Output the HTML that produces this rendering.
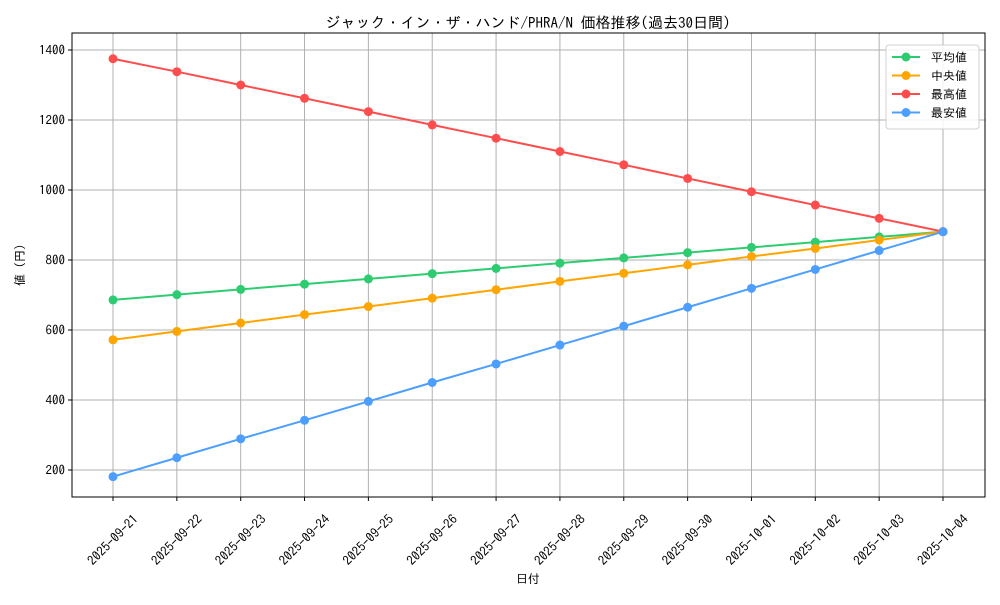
<!DOCTYPE html>
<html><head><meta charset="utf-8"><style>
body{margin:0;background:#fff}
text{font-family:"IPAGothic","Noto Sans CJK JP",monospace;fill:#000}
</style></head><body>
<svg id="chart" width="1000" height="600">
<rect width="1000" height="600" fill="#fff"/>
<text x="528" y="28" text-anchor="middle" font-size="15">ジャック・イン・ザ・ハンド/PHRA/N 価格推移(過去30日間)</text>
<g id="grid"></g><g id="series"></g><g id="axes"></g>
<text x="528" y="583" text-anchor="middle" font-size="12">日付</text>
<text transform="translate(24,265) rotate(-90)" text-anchor="middle" font-size="12">値 (円)</text>
</svg>
<script>
const categories=["2025-09-21","2025-09-22","2025-09-23","2025-09-24","2025-09-25","2025-09-26","2025-09-27","2025-09-28","2025-09-29","2025-09-30","2025-10-01","2025-10-02","2025-10-03","2025-10-04"];
const avgValues=[686,701,716,731,746,761,776,791,806,821,836,851,866,881];
const medianValues=[572,596,620,644,667,691,715,739,762,786,810,833,857,881];
const maxValues=[1375,1338,1300,1262,1224,1186,1148,1110,1072,1033,995,957,919,881];
const minValues=[181,235,289,342,396,450,503,557,611,665,719,773,827,881];
const yTicks=[200,400,600,800,1000,1200,1400];
const seriesNames=["平均値","中央値","最高値","最安値"];
const NS="http://www.w3.org/2000/svg";
const L=72,R=985,T=33,B=497;
function xs(i){return 113+i*(943-113)/(categories.length-1);}
function ys(v){return 470-(v-200)*0.35;}
function mk(t,a,p){const e=document.createElementNS(NS,t);for(const k in a)e.setAttribute(k,a[k]);p.appendChild(e);return e;}
const grid=document.getElementById('grid'),axes=document.getElementById('axes'),ser=document.getElementById('series');
categories.forEach((c,i)=>{const x=xs(i);
const g=mk('line',{x1:x,x2:x,y1:T,y2:B,stroke:'#b0b0b0','stroke-width':1},grid);


const tk=mk('line',{x1:x,x2:x,y1:B,y2:B+4,stroke:'#000'},axes);


const ax=x+26,ay=B+23;
const t=mk('text',{x:ax,y:ay,'text-anchor':'end','font-size':13,transform:`rotate(-45 ${ax} ${ay})`},axes);
t.textContent=c;

});
yTicks.forEach(v=>{const y=ys(v);
const g=mk('line',{x1:L,x2:R,y1:y,y2:y,stroke:'#b0b0b0','stroke-width':1},grid);


const tk=mk('line',{x1:L-4,x2:L,y1:y,y2:y,stroke:'#000'},axes);


const t=mk('text',{x:L-7,y:y+4.5,'text-anchor':'end','font-size':13},axes);
t.textContent=v;

});
const fr=mk('rect',{x:L,y:T,width:R-L,height:B-T,fill:'none',stroke:'#000','stroke-width':1},axes);


const all=[avgValues,medianValues,maxValues,minValues],cols=['#2ecc71','#ffa500','#ff4c4c','#4c9eff'];
all.forEach((vals,s)=>{
const pl=mk('polyline',{points:vals.map((v,i)=>xs(i)+','+ys(v)).join(' '),fill:'none',stroke:cols[s],'stroke-width':2},ser);


vals.forEach((v,i)=>{const c=mk('circle',{cx:xs(i),cy:ys(v),r:4.5,fill:cols[s]},ser);

});});
const lg=mk('g',{},axes);


mk('rect',{x:886,y:45,width:93,height:84,rx:3,fill:'#fff','fill-opacity':0.85,stroke:'#d0d0d0'},lg);
seriesNames.forEach((n,s)=>{const y=57+s*18.5;
mk('line',{x1:892,x2:920,y1:y,y2:y,stroke:cols[s],'stroke-width':2},lg);
mk('circle',{cx:906,cy:y,r:4.5,fill:cols[s]},lg);
const t=mk('text',{x:931,y:y+4.5,'font-size':12},lg);
t.textContent=n;

});
</script>
</body></html>
